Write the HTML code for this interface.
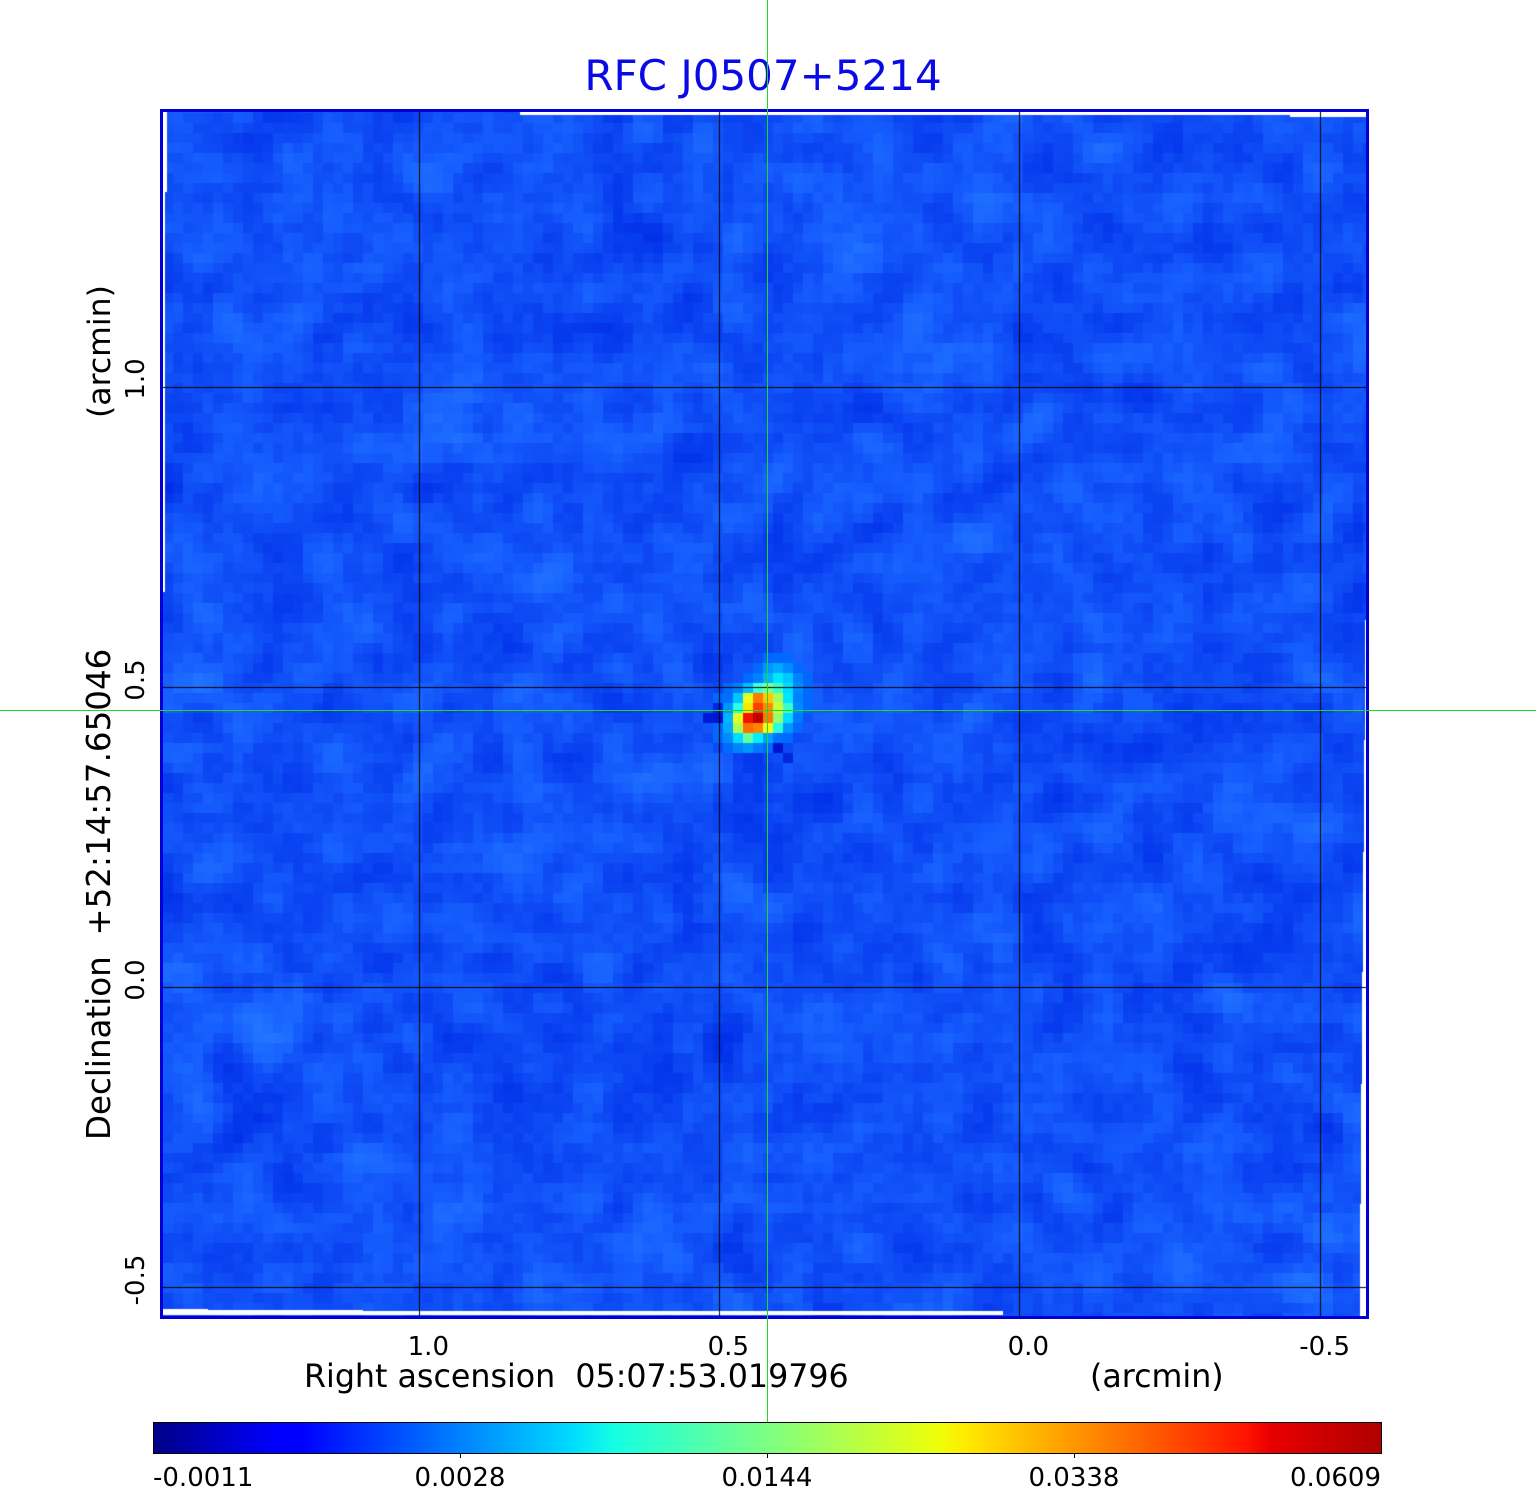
<!DOCTYPE html>
<html>
<head>
<meta charset="utf-8">
<style>
html,body{margin:0;padding:0;background:#fff;}
#root{position:relative;width:1536px;height:1511px;overflow:hidden;background:#fff;}
#img{position:absolute;left:163px;top:112px;background:#124cf5;}
#frame{position:absolute;left:160px;top:109px;width:1209px;height:1210px;border:3px solid #0000d6;box-sizing:border-box;}
#cbar{position:absolute;left:153px;top:1422px;width:1229px;height:32px;box-sizing:border-box;border:1px solid #000;
background:linear-gradient(to right,
rgb(0,0,135) 0%, rgb(0,0,255) 10%, rgb(0,0,255) 12%, rgb(0,120,255) 24%, rgb(0,219,255) 34%,
rgb(20,255,227) 37.5%, rgb(125,255,130) 50%, rgb(239,255,8) 64%, rgb(255,236,0) 66%,
rgb(255,132,0) 77%, rgb(255,19,0) 89%, rgb(232,0,0) 91%, rgb(175,0,0) 100%);}
.tick{position:absolute;top:1453px;width:1px;height:5px;background:#000;}
.g{position:absolute;background:#22d822;}
svg{position:absolute;left:0;top:0;}
text{font-family:"DejaVu Sans","Liberation Sans",sans-serif;fill:#000;}
</style>
</head>
<body>
<div id="root">
<canvas id="img" width="1203" height="1204"></canvas>
<div id="frame"></div>
<div id="cbar"></div>
<div class="tick" style="left:460px"></div>
<div class="tick" style="left:767px"></div>
<div class="tick" style="left:1074px"></div>
<svg width="1536" height="1511" viewBox="0 0 1536 1511">
  <text x="763" y="90" font-size="42" text-anchor="middle" style="fill:#0a0ae6">RFC J0507+5214</text>
  <text x="449" y="1355" font-size="26" text-anchor="end">1.0</text>
  <text x="749" y="1355" font-size="26" text-anchor="end">0.5</text>
  <text x="1049" y="1355" font-size="26" text-anchor="end">0.0</text>
  <text x="1350" y="1355" font-size="26" text-anchor="end">-0.5</text>
  <text x="304" y="1387" font-size="31.7" xml:space="preserve">Right ascension  05:07:53.019796</text>
  <text x="1090" y="1387" font-size="31.7">(arcmin)</text>
  <text transform="translate(110,1140) rotate(-90)" font-size="32.5" xml:space="preserve">Declination  +52:14:57.65046</text>
  <text transform="translate(110,418) rotate(-90)" font-size="31.5">(arcmin)</text>
  <text transform="translate(144,379) rotate(-90)" font-size="26" text-anchor="middle">1.0</text>
  <text transform="translate(144,680) rotate(-90)" font-size="26" text-anchor="middle">0.5</text>
  <text transform="translate(144,980) rotate(-90)" font-size="26" text-anchor="middle">0.0</text>
  <text transform="translate(144,1280) rotate(-90)" font-size="26" text-anchor="middle">-0.5</text>
  <text x="153" y="1486" font-size="26">-0.0011</text>
  <text x="460" y="1486" font-size="26" text-anchor="middle">0.0028</text>
  <text x="767" y="1486" font-size="26" text-anchor="middle">0.0144</text>
  <text x="1074" y="1486" font-size="26" text-anchor="middle">0.0338</text>
  <text x="1381" y="1486" font-size="26" text-anchor="end">0.0609</text>
</svg>
<div class="g" style="left:767px;top:0;width:1px;height:1422px"></div>
<div class="g" style="left:0;top:710px;width:1536px;height:1px"></div>
</div>
<script>
(function(){
var cv=document.getElementById('img');
if(!cv.getContext)return;
var ctx=cv.getContext('2d');
var W=1203,H=1204,OX=163,OY=112,cs=10,oy=-9;
var nx=Math.ceil(W/cs)+2, ny=Math.ceil((H-oy)/cs)+2;
var s=987654321;
function rnd(){s^=s<<13;s^=s>>>17;s^=s<<5;return ((s>>>0)%1000003)/1000003;}
var a=new Array(nx*ny),i,j,k;
for(k=0;k<nx*ny;k++)a[k]=rnd();
function blur(src){
  var o=new Array(nx*ny);
  for(j=0;j<ny;j++)for(i=0;i<nx;i++){
    var sum=0,n=0;
    for(var dj=-1;dj<=1;dj++)for(var di=-1;di<=1;di++){
      var x=i+di,y=j+dj;
      if(x>=0&&x<nx&&y>=0&&y<ny){sum+=src[y*nx+x];n++;}
    }
    o[j*nx+i]=sum/n;
  }
  return o;
}
function norm(arr){
  var m=0,v=0;for(k=0;k<arr.length;k++)m+=arr[k];m/=arr.length;
  for(k=0;k<arr.length;k++)v+=(arr[k]-m)*(arr[k]-m);v=Math.sqrt(v/arr.length)||1;
  var o=new Array(arr.length);for(k=0;k<arr.length;k++)o[k]=(arr[k]-m)/v;return o;
}
var b=norm(blur(blur(a))), rn=norm(a);
function cl(x){return Math.max(0,Math.min(255,Math.round(x)));}
for(j=0;j<ny;j++)for(i=0;i<nx;i++){
  var v=0.8*b[j*nx+i]+0.3*rn[j*nx+i];
  ctx.fillStyle='rgb('+cl(16+5*v)+','+cl(80+11*v)+','+cl(247+5*v)+')';
  ctx.fillRect(i*cs,oy+j*cs,cs,cs);
}
function cell(px,py,c){ctx.fillStyle=c;ctx.fillRect(px-OX,py-OY,10,10);}
function cr(c,r,col){cell(723+10*c,663+10*r,col);}
var halo='rgb(0,105,255)';
[[4,-1],[5,-1],[6,-1],[3,0],[7,0],[2,1],[8,1],[0,2],[8,2],[-1,3],[8,3],[-1,4],[8,4],[-1,6],[7,5],[7,6],[6,7],[-1,7],[0,8],[4,8]].forEach(function(p){cr(p[0],p[1],halo);});
var B=[
 [0,[[4,'rgb(0,150,255)'],[5,'rgb(0,170,255)'],[6,'rgb(0,140,255)']]],
 [1,[[3,'rgb(0,130,255)'],[4,'rgb(0,180,255)'],[5,'rgb(0,230,255)'],[6,'rgb(0,200,255)'],[7,'rgb(0,130,255)']]],
 [2,[[1,'rgb(0,130,255)'],[2,'rgb(0,190,255)'],[3,'rgb(60,255,220)'],[4,'rgb(120,255,150)'],[5,'rgb(60,255,200)'],[6,'rgb(0,220,255)'],[7,'rgb(0,140,255)']]],
 [3,[[0,'rgb(0,110,255)'],[1,'rgb(0,200,255)'],[2,'rgb(230,255,30)'],[3,'rgb(255,120,0)'],[4,'rgb(255,200,0)'],[5,'rgb(170,255,90)'],[6,'rgb(0,230,255)'],[7,'rgb(0,130,255)']]],
 [4,[[0,'rgb(0,150,255)'],[1,'rgb(40,255,230)'],[2,'rgb(255,230,0)'],[3,'rgb(255,60,0)'],[4,'rgb(255,140,0)'],[5,'rgb(200,255,60)'],[6,'rgb(60,255,200)'],[7,'rgb(0,140,255)']]],
 [5,[[0,'rgb(0,180,255)'],[1,'rgb(230,255,30)'],[2,'rgb(240,20,0)'],[3,'rgb(190,0,0)'],[4,'rgb(255,120,0)'],[5,'rgb(150,255,110)'],[6,'rgb(0,220,255)'],[7,'rgb(0,120,255)']]],
 [6,[[0,'rgb(0,170,255)'],[1,'rgb(170,255,90)'],[2,'rgb(255,110,0)'],[3,'rgb(255,130,0)'],[4,'rgb(240,255,20)'],[5,'rgb(40,255,220)'],[6,'rgb(0,150,255)']]],
 [7,[[0,'rgb(0,140,255)'],[1,'rgb(0,220,255)'],[2,'rgb(100,255,160)'],[3,'rgb(0,240,255)'],[4,'rgb(0,160,255)'],[5,'rgb(0,110,255)']]],
 [8,[[1,'rgb(0,130,255)'],[2,'rgb(0,150,255)'],[3,'rgb(0,120,255)']]]
];
B.forEach(function(row){row[1].forEach(function(c){cr(c[0],row[0],c[1]);});});
cell(703,713,'rgb(0,25,215)');cell(713,713,'rgb(0,20,210)');cell(713,703,'rgb(0,40,225)');
cell(773,743,'rgb(0,20,205)');cell(783,753,'rgb(0,40,220)');
ctx.fillStyle='#fff';
function wr(x,y,w,h){ctx.fillRect(x-OX,y-OY,w,h);}
wr(520,112,846,3);wr(1290,112,76,5);
wr(163,112,4,80);wr(163,192,2,400);
wr(163,1309,45,6);wr(208,1310,155,5);wr(363,1311,640,4);
for(var y=500;y<1316;y+=8){var w=Math.floor((y-500)/816*7);if(w>0)wr(1366-w,y,w,8);}
ctx.fillStyle='#000';
[419,719,1019,1320].forEach(function(x){wr(x,112,1,1204);});
[387,687,987,1287].forEach(function(y){wr(163,y,1203,1);});
})();
</script>
</body>
</html>
